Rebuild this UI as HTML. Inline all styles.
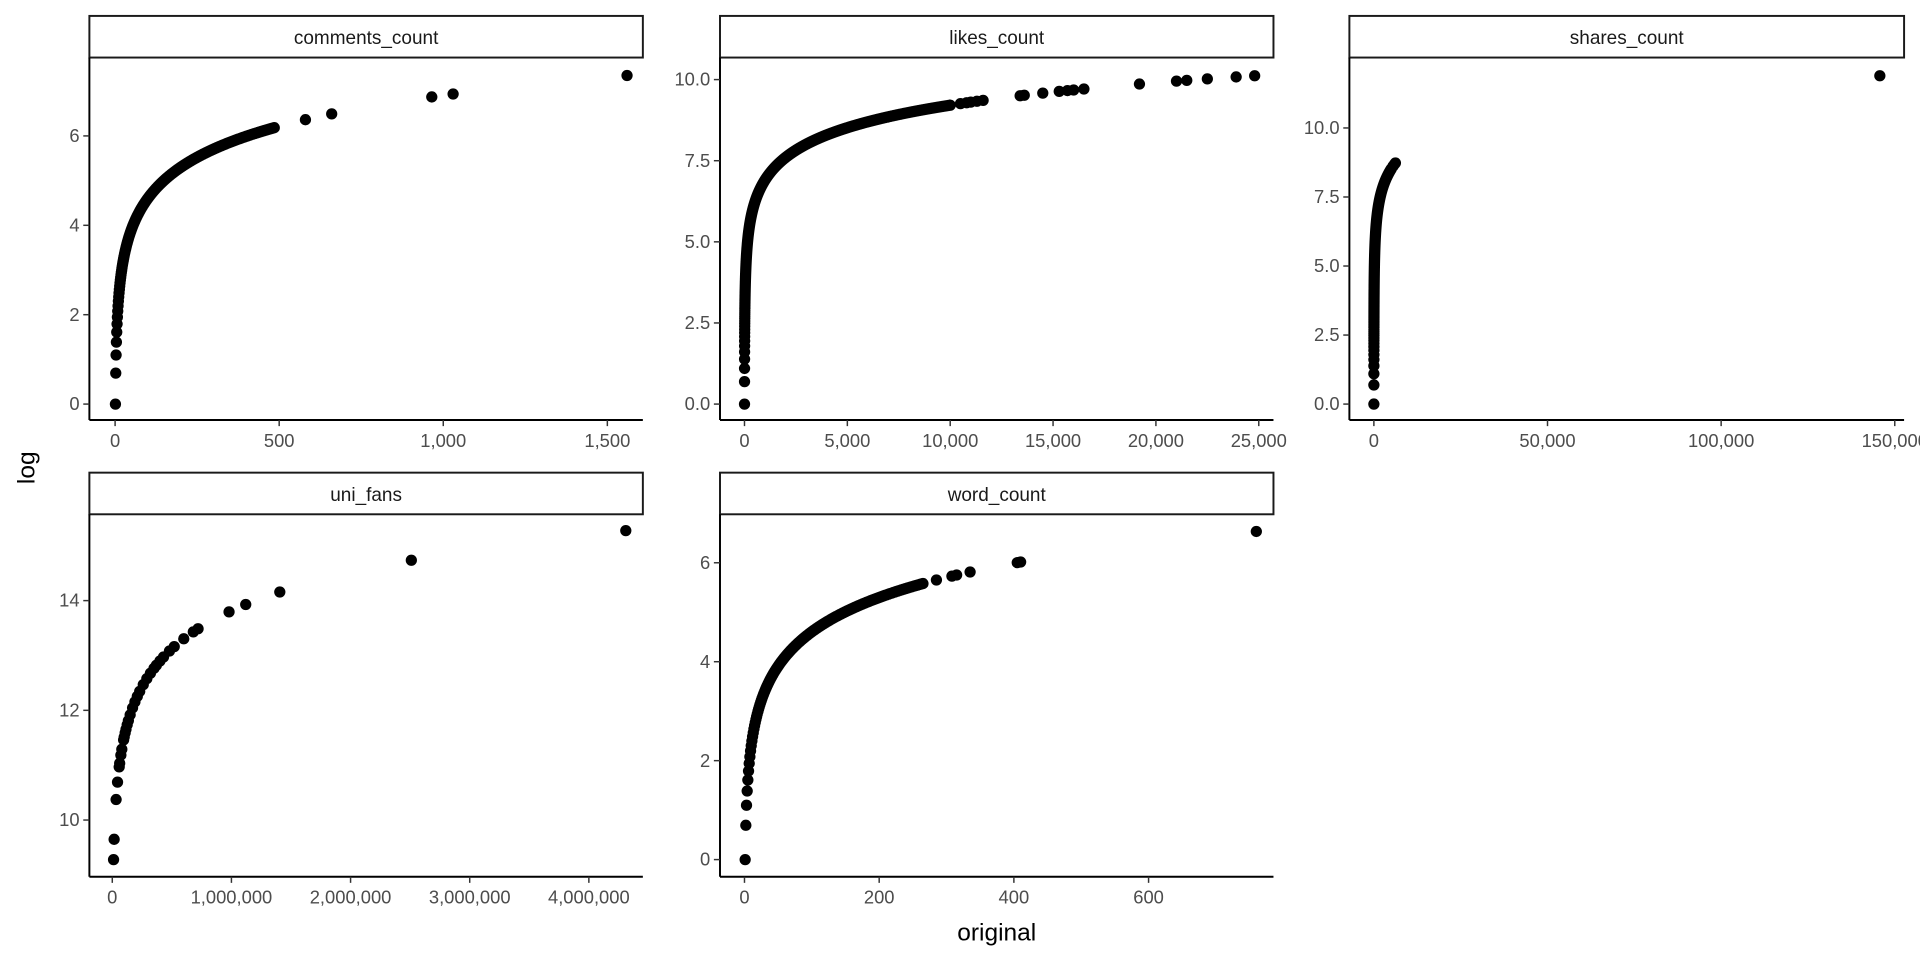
<!DOCTYPE html>
<html><head><meta charset="utf-8"><style>
html,body{margin:0;padding:0;background:#fff;}
svg{display:block;font-family:"Liberation Sans",sans-serif;}
</style></head><body>
<svg id="s" width="1920" height="960" viewBox="0 0 1568 784" xmlns="http://www.w3.org/2000/svg">
<rect width="1568" height="784" fill="#fff"/>
<g id="g"></g>
<text x="814" y="768" font-size="20" text-anchor="middle" fill="#000">original</text>
<text x="28" y="382" font-size="20" text-anchor="middle" fill="#000" transform="rotate(-90 28 382)">log</text>
</svg>
<script>
const NS="http://www.w3.org/2000/svg";const G=document.getElementById('g');
function el(t,a,txt){const e=document.createElementNS(NS,t);for(const k in a)e.setAttribute(k,a[k]);if(txt!==undefined)e.textContent=txt;G.appendChild(e);return e;}
function panel(p){
 const {x0,x1,top,name,xt,xtl,x0px,xper,yt,ytl,y0px,yper,yv0,pts}=p;
 const sTop=top,sBot=top+34,bot=top+330;
 el('rect',{x:x0,y:sTop,width:x1-x0,height:34,fill:'#fff',stroke:'#1a1a1a','stroke-width':1.6});
 el('text',{x:(x0+x1)/2,y:sTop+23,'font-size':15.5,'text-anchor':'middle',fill:'#1a1a1a'},name);
 const X=v=>x0px+v*xper, Y=v=>y0px-(v-yv0)*yper;
 let d='';
 for(const v of pts){if(v<=0)continue;const xx=X(v),yy=Y(Math.log(v));d+=`M${xx-4.6},${yy}a4.6,4.6 0 1,0 9.2,0a4.6,4.6 0 1,0 -9.2,0`;}
 el('path',{d:d,fill:'#000'});
 el('line',{x1:x0,y1:sBot,x2:x0,y2:bot,stroke:'#000','stroke-width':1.6});
 el('line',{x1:x0,y1:bot,x2:x1,y2:bot,stroke:'#000','stroke-width':1.6});
 xt.forEach((v,i)=>{const xx=X(v);el('line',{x1:xx,y1:bot,x2:xx,y2:bot+5,stroke:'#333','stroke-width':1.2});
  el('text',{x:xx,y:bot+22,'font-size':15,'text-anchor':'middle',fill:'#4d4d4d'},xtl[i]);});
 yt.forEach((v,i)=>{const yy=Y(v);el('line',{x1:x0-5,y1:yy,x2:x0,y2:yy,stroke:'#333','stroke-width':1.2});
  el('text',{x:x0-8,y:yy+5,'font-size':15,'text-anchor':'end',fill:'#4d4d4d'},ytl[i]);});
}
function seq(max,extra){const a=[];for(let i=1;i<=max;i+=(i<2000?1:(i<5000?5:10)))a.push(i);return a.concat(extra);}
panel({x0:73,x1:525,top:13,name:'comments_count',xt:[0,500,1000,1500],xtl:['0','500','1,000','1,500'],x0px:94,xper:134/500,
 yt:[0,2,4,6],ytl:['0','2','4','6'],y0px:330,yper:36.5,yv0:0,
 pts:seq(485,[340,360,380,400,420,440,460,580,660,965,1030,1560])});
panel({x0:588,x1:1040,top:13,name:'likes_count',xt:[0,5000,10000,15000,20000,25000],xtl:['0','5,000','10,000','15,000','20,000','25,000'],x0px:608,xper:84/5000,
 yt:[0,2.5,5,7.5,10],ytl:['0.0','2.5','5.0','7.5','10.0'],y0px:330,yper:26.5,yv0:0,
 pts:seq(10000,[10500,10800,11000,11300,11600,13400,13600,14500,15300,15700,16000,16500,19200,21000,21500,22500,23900,24800])});
panel({x0:1102,x1:1555,top:13,name:'shares_count',xt:[0,50000,100000,150000],xtl:['0','50,000','100,000','150,000'],x0px:1122,xper:141.8/50000,
 yt:[0,2.5,5,7.5,10],ytl:['0.0','2.5','5.0','7.5','10.0'],y0px:330,yper:22.55,yv0:0,
 pts:seq(5000,[5500,5800,6000,6200,145700])});
panel({x0:73,x1:525,top:386,name:'uni_fans',xt:[0,1e6,2e6,3e6,4e6],xtl:['0','1,000,000','2,000,000','3,000,000','4,000,000'],x0px:91.7,xper:97.3/1e6,
 yt:[10,12,14],ytl:['10','12','14'],y0px:669.7,yper:44.8,yv0:10,
 pts:[10700,15500,32000,44000,58000,62000,72000,80000,95000,100000,108000,115000,125000,135000,150000,170000,190000,210000,230000,260000,290000,320000,350000,370000,400000,430000,480000,520000,600000,680000,720000,980000,1120000,1406000,2510000,4310000]});
panel({x0:588,x1:1040,top:386,name:'word_count',xt:[0,200,400,600],xtl:['0','200','400','600'],x0px:608,xper:110/200,
 yt:[0,2,4,6],ytl:['0','2','4','6'],y0px:702,yper:40.4,yv0:0,
 pts:seq(265,[285,308,315,335,405,410,760])});
</script>
</body></html>
